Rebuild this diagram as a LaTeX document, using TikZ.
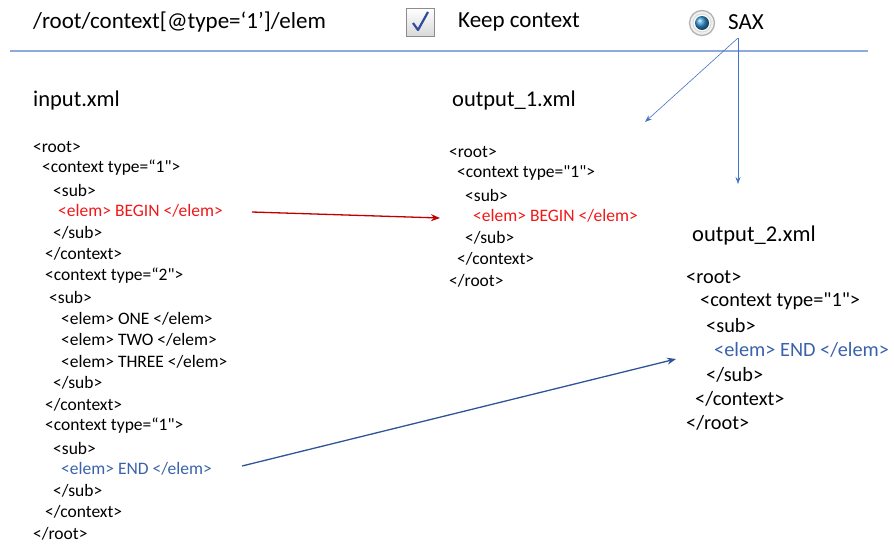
\documentclass[tikz,border=0pt]{standalone}
\usepackage{fontspec}
\setmainfont{Carlito}
\newfontfamily\rawquote{Carlito}[Ligatures=TeXOff]
\usetikzlibrary{positioning, arrows.meta, shapes.geometric, calc}
\definecolor{ruleblue}{HTML}{8EA9DB}
\definecolor{saxblue}{HTML}{4472C4}
\definecolor{endblue}{HTML}{3A62AC}
\definecolor{arrowblue}{HTML}{2F5597}
\definecolor{checkblue}{HTML}{2E4C9C}
\definecolor{beginred}{HTML}{F01818}
\definecolor{arrowred}{HTML}{C00000}
\newcommand{\sq}{{\rawquote"}}

\begin{document}
\begin{tikzpicture}[
    x=1pt, y=-1pt,
    head/.style={anchor=west, inner sep=0pt, font=\fontsize{23}{25}\selectfont},
    xml/.style={anchor=west, inner sep=0pt, font=\fontsize{17.5}{19}\selectfont},
    bigxml/.style={anchor=west, inner sep=0pt, font=\fontsize{20.3}{22}\selectfont},
    link/.style={-{Stealth[length=9pt, width=7pt]}, line width=1.3pt},
    saxlink/.style={-{Stealth[length=7pt, width=5pt]}, line width=0.6pt, draw=saxblue}
]
    \useasboundingbox (0,0) rectangle (894,544);

    % Query bar
    \node[head] (query) at (33,22) {/root/context[@type=‘1’]/elem};
    \node[draw=black!45, line width=1pt, top color=white, bottom color=black!15,
          minimum size=28pt, inner sep=0pt] (check) at (420,22) {};
    \draw[line width=2.2pt, draw=checkblue, line join=round] ($(check.center)+(-7,1)$) -- ($(check.center)+(-2,8)$) -- ($(check.center)+(8,-10)$);
    \node[head] (keep) at (458,22) {Keep context};
    \node[circle, draw=black!30, line width=1.3pt, fill=black!6, minimum size=25pt, inner sep=0pt] (radio) at (702,23) {};
    \node[circle, draw=black!15, line width=1pt, fill=white, minimum size=18pt, inner sep=0pt] (radioring) at (radio.center) {};
    \node[circle, ball color=saxblue!75!cyan, minimum size=14pt, inner sep=0pt] (radiodot) at (radio.center) {};
    \node[head] (sax) at (728,22) {SAX};
    \draw[line width=1.6pt, draw=ruleblue] (10,51) -- (868,51);

    % input.xml
    \node[head, font=\fontsize{22.5}{24}\selectfont] (intitle) at (33,100) {input.xml};
    \node[xml] (in1)  at (33,147)  {<root>};
    \node[xml] (in2)  at (42,168)  {<context type=“1\sq>};
    \node[xml] (in3)  at (53,190)  {<sub>};
    \node[xml, text=beginred] (in4) at (58,211) {<elem> BEGIN </elem>};
    \node[xml] (in5)  at (53,233)  {</sub>};
    \node[xml] (in6)  at (45,254)  {</context>};
    \node[xml] (in7)  at (45,276)  {<context type=“2\sq>};
    \node[xml] (in8)  at (49,297)  {<sub>};
    \node[xml] (in9)  at (61,319)  {<elem> ONE </elem>};
    \node[xml] (in10) at (61,340)  {<elem> TWO </elem>};
    \node[xml] (in11) at (61,362)  {<elem> THREE </elem>};
    \node[xml] (in12) at (53,383)  {</sub>};
    \node[xml] (in13) at (45,405)  {</context>};
    \node[xml] (in14) at (45,426)  {<context type=“1\sq>};
    \node[xml] (in15) at (53,448)  {<sub>};
    \node[xml, text=endblue] (in16) at (61,469) {<elem> END </elem>};
    \node[xml] (in17) at (53,491)  {</sub>};
    \node[xml] (in18) at (45,512)  {</context>};
    \node[xml] (in19) at (33,534)  {</root>};

    % output_1.xml
    \node[head, font=\fontsize{22.5}{24}\selectfont] (outa) at (452,100) {output\_1.xml};
    \node[xml] (a1) at (449,152) {<root>};
    \node[xml] (a2) at (457,173) {<context type=\sq1\sq>};
    \node[xml] (a3) at (465,195) {<sub>};
    \node[xml, text=beginred] (a4) at (473,216) {<elem> BEGIN </elem>};
    \node[xml] (a5) at (465,238) {</sub>};
    \node[xml] (a6) at (457,259) {</context>};
    \node[xml] (a7) at (449,281) {</root>};

    % output_2.xml
    \node[head, font=\fontsize{22.5}{24}\selectfont] (outb) at (692,235) {output\_2.xml};
    \node[bigxml] (b1) at (686,277) {<root>};
    \node[bigxml] (b2) at (700,301) {<context type=\sq1\sq>};
    \node[bigxml] (b3) at (706,326) {<sub>};
    \node[bigxml, text=endblue] (b4) at (714,350) {<elem> END </elem>};
    \node[bigxml] (b5) at (706,375) {</sub>};
    \node[bigxml] (b6) at (695,399) {</context>};
    \node[bigxml] (b7) at (686,423) {</root>};

    % SAX splits the stream
    \coordinate (saxfoot) at (738,38);
    \coordinate (toa) at (645,122);
    \coordinate (tob) at (738,184);
    \draw[saxlink] (saxfoot) -- (toa);
    \draw[saxlink] (saxfoot) -- (tob);

    % matched elements
    \draw[link, draw=arrowred] ($(a4.west)+(-221,-4)$) -- ($(a4.west)+(-33,2)$);
    \draw[link, draw=arrowblue] ($(in16.west)+(181,-3)$) -- ($(b4.west)+(-38,9)$);
\end{tikzpicture}
\end{document}
